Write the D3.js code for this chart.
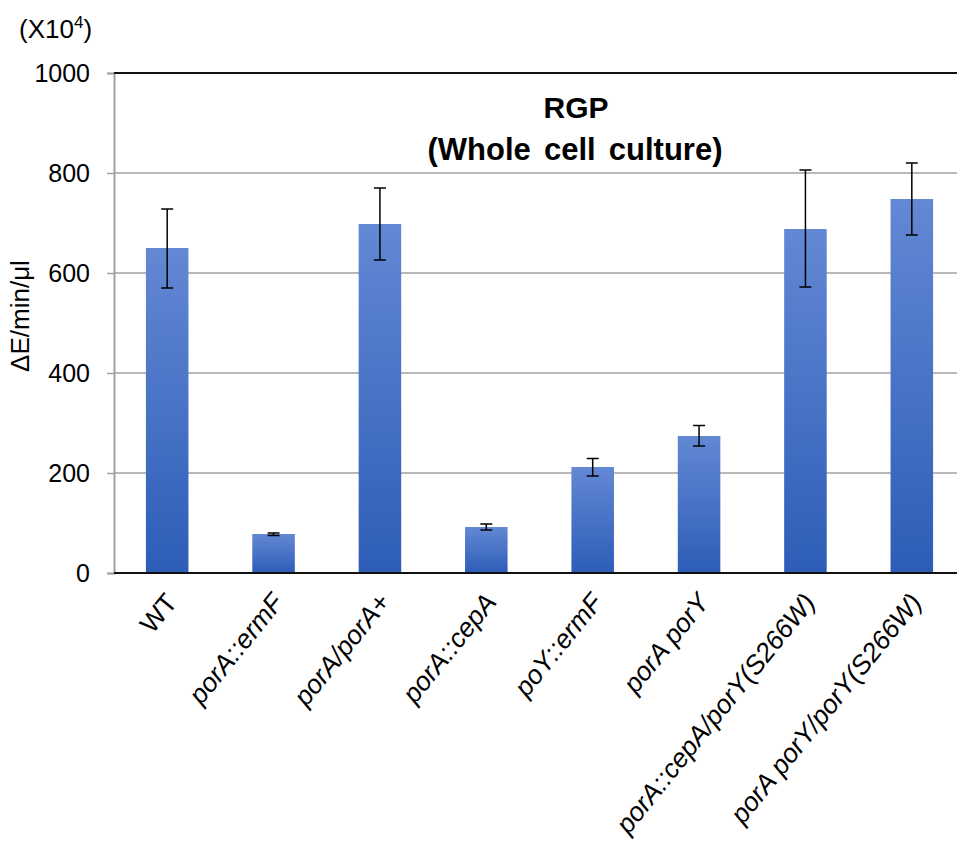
<!DOCTYPE html>
<html><head><meta charset="utf-8">
<script src="https://cdn.jsdelivr.net/npm/d3@7"></script>
<style>body{margin:0;background:#fff}svg{display:block}text{font-family:"Liberation Sans",Arial,sans-serif;fill:#000}</style>
</head><body>
<svg id="c" width="957" height="850"></svg>
<script>
const categories = ["WT","porA::ermF","porA/porA+","porA::cepA","poY::ermF","porA porY","porA::cepA/porY(S266W)","porA porY/porY(S266W)"];
const italicCat = [false,true,true,true,true,true,true,true];
const values = [650,78,698,92,212,274,688,748];
const errLow = [570,75,626,86,194,254,572,676];
const errHigh = [728,80,770,98,229,295,806,820];
const yTicks = [0,200,400,600,800,1000];

const svg = d3.select("#c");
const m = {left:114, top:73, right:965, bottom:573};
const x = d3.scaleBand().domain(categories).range([m.left, m.right]).paddingInner(0.6).paddingOuter(0.3);
const y = d3.scaleLinear().domain([0,1000]).range([m.bottom, m.top]);

const defs = svg.append("defs");
const g = defs.append("linearGradient").attr("id","bg").attr("x1",0).attr("y1",0).attr("x2",0).attr("y2",1);
g.append("stop").attr("offset","0%").attr("stop-color","#6388d4");
g.append("stop").attr("offset","100%").attr("stop-color","#2d5db7");

// gridlines
svg.append("g").selectAll("line").data(yTicks.filter(d=>d>0 && d<1000)).join("line")
  .attr("x1",m.left).attr("x2",m.right).attr("y1",d=>y(d)).attr("y2",d=>y(d))
  .attr("stroke","#a0a0a0").attr("stroke-width",1.5);

// left axis
const ya = svg.append("g").attr("transform",`translate(${m.left},0)`)
  .call(d3.axisLeft(y).tickValues(yTicks).tickFormat(d3.format("d")).tickSize(7).tickPadding(17));
ya.select(".domain").attr("stroke","#a0a0a0").attr("stroke-width",2);
ya.selectAll(".tick line").attr("stroke","#a0a0a0").attr("stroke-width",1.5);
ya.selectAll(".tick text").attr("font-size","25px").attr("font-family","Liberation Sans, Arial, sans-serif").attr("fill","#000");

// top border
svg.append("line").attr("x1",m.left).attr("x2",m.right).attr("y1",y(1000)).attr("y2",y(1000)).attr("stroke","#111").attr("stroke-width",2);

// bars
svg.append("g").selectAll("rect").data(categories).join("rect")
  .attr("x",d=>x(d)).attr("width",x.bandwidth())
  .attr("y",(d,i)=>y(values[i])).attr("height",(d,i)=>y(0)-y(values[i]))
  .attr("fill","url(#bg)");

svg.append("line").attr("x1",m.left).attr("x2",m.right).attr("y1",y(0)).attr("y2",y(0)).attr("stroke","#111").attr("stroke-width",2);

// error bars
const eb = svg.append("g").attr("stroke","#000").attr("stroke-width",1.5);
categories.forEach((c,i)=>{
  const cx = x(c)+x.bandwidth()/2;
  eb.append("line").attr("x1",cx).attr("x2",cx).attr("y1",y(errLow[i])).attr("y2",y(errHigh[i]));
  eb.append("line").attr("x1",cx-6).attr("x2",cx+6).attr("y1",y(errLow[i])).attr("y2",y(errLow[i]));
  eb.append("line").attr("x1",cx-6).attr("x2",cx+6).attr("y1",y(errHigh[i])).attr("y2",y(errHigh[i]));
});

// category labels
svg.append("g").selectAll("text").data(categories).join("text")
  .attr("transform",d=>`translate(${x(d)+x.bandwidth()/2+4},${m.bottom+24}) rotate(-51)`)
  .attr("text-anchor","end").attr("dy","0.35em")
  .attr("font-size","26.5px").attr("font-style",(d,i)=>italicCat[i]?"italic":"normal")
  .text(d=>d);

// title
const t = svg.append("text").attr("text-anchor","middle").attr("font-weight","bold").attr("font-size","30px");
t.append("tspan").attr("x",576).attr("y",118).text("RGP");
t.append("tspan").attr("x",575).attr("y",160).attr("font-size","31px").attr("word-spacing","4.5px").text("(Whole cell culture)");

// y label
svg.append("text").attr("transform","translate(29,316) rotate(-90)").attr("text-anchor","middle").attr("font-size","26px").text("ΔE/min/μl");

// multiplier
const mu = svg.append("text").attr("x",19).attr("y",38).attr("font-size","26px");
mu.append("tspan").text("(X10");
mu.append("tspan").attr("font-size","17px").attr("dy","-10").text("4");
mu.append("tspan").attr("dy","10").text(")");
</script>
</body></html>
